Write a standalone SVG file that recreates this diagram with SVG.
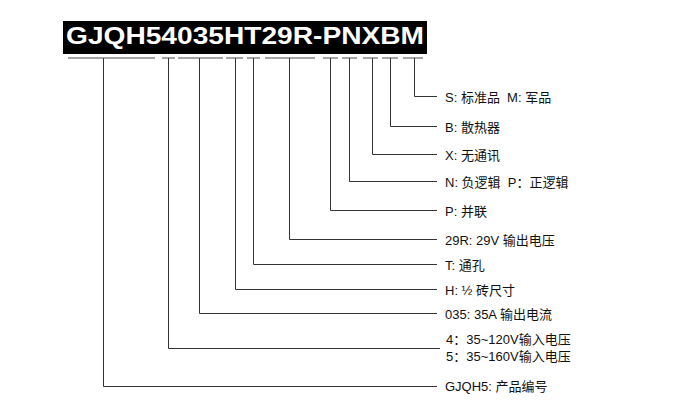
<svg xmlns="http://www.w3.org/2000/svg" width="678" height="413" viewBox="0 0 678 413">
<style>
.t{font-family:"Liberation Sans","Noto Sans CJK SC",sans-serif;font-size:13px;fill:#111;white-space:pre}
.u{stroke:#888;stroke-width:1.5;fill:none}
.c{stroke:#333;stroke-width:1;fill:none}
</style>
<rect x="0" y="0" width="678" height="413" fill="#fff"/>
<g id="title">
<rect x="63" y="21" width="364" height="33" fill="#000"/>
<text x="66" y="44" font-family="Liberation Sans, Arial, sans-serif" font-size="24" font-weight="bold" fill="#fff" textLength="358" lengthAdjust="spacingAndGlyphs">GJQH54035HT29R-PNXBM</text>
</g>
<g id="connectors">
<path class="u" d="M68 58H155M162 58H175M178 58H223M226 58H243M247 58H260M265 58H315M323 58H338M342 58H357M363 58H378M382 58H398M403 58H423"/>
<path class="c" d="M103.5 58V386.5H437"/>
<path class="c" d="M168.5 58V348.5H440"/>
<path class="c" d="M199.5 58V313.5H437"/>
<path class="c" d="M235.5 58V289.5H437"/>
<path class="c" d="M253.5 58V264.5H437"/>
<path class="c" d="M289.5 58V239.5H437"/>
<path class="c" d="M330.5 58V210.5H437"/>
<path class="c" d="M349.5 58V181.5H437"/>
<path class="c" d="M372.5 58V154.5H437"/>
<path class="c" d="M390.5 58V126.5H437"/>
<path class="c" d="M414.5 58V96.5H437"/>
</g>
<g id="n-s"><text class="t" x="445" y="102" xml:space="preserve">S: 标准品  M: 军品</text></g>
<g id="n-b"><text class="t" x="445" y="132">B: 散热器</text></g>
<g id="n-x"><text class="t" x="445" y="160">X: 无通讯</text></g>
<g id="n-n"><text class="t" x="445" y="187" xml:space="preserve">N: 负逻辑  P：正逻辑</text></g>
<g id="n-p"><text class="t" x="445" y="216">P: 并联</text></g>
<g id="n-29r"><text class="t" x="445" y="245">29R: 29V 输出电压</text></g>
<g id="n-t"><text class="t" x="445" y="270">T: 通孔</text></g>
<g id="n-h"><text class="t" x="445" y="295">H: ½ 砖尺寸</text></g>
<g id="n-035"><text class="t" x="445" y="319">035: 35A 输出电流</text></g>
<g id="n-45"><text class="t" x="446" y="344">4：35~120V输入电压</text><text class="t" x="446" y="361">5：35~160V输入电压</text></g>
<g id="n-gjqh5"><text class="t" x="445" y="391">GJQH5: 产品编号</text></g>
</svg>
